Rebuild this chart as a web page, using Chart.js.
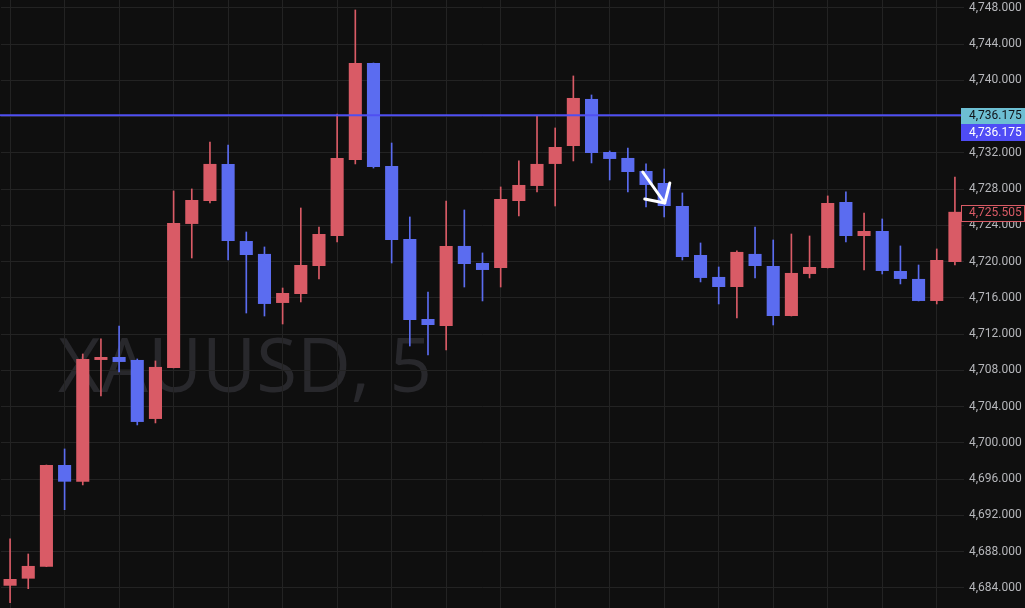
<!DOCTYPE html>
<html><head><meta charset="utf-8">
<script src="https://cdn.jsdelivr.net/npm/chart.js@4.4.0/dist/chart.umd.min.js"></script>
<style>html,body{margin:0;padding:0;background:#0f0f0f;overflow:hidden}#wrap{width:1025px;height:608px}</style>
</head><body><div id="wrap"><canvas id="c" width="1025" height="608"></canvas></div>
<script>
// ---- data (XAUUSD, 5-minute candles) ----
const opens  = [4684.25,4685.03,4686.35,4697.57,4695.73,4709.16,4709.49,4709.16,4702.65,4708.28,
                4724.17,4726.70,4730.79,4722.29,4720.86,4715.45,4716.44,4719.53,4722.84,4731.23,
                4741.93,4730.57,4722.51,4713.68,4712.91,4721.74,4719.86,4719.31,4726.70,4728.36,
                4730.79,4732.77,4737.96,4732.11,4731.45,4730.01,4728.69,4726.15,4720.74,4718.32,
                4717.21,4720.86,4719.53,4714.01,4718.65,4719.31,4726.59,4722.84,4723.39,4718.98,
                4718.10,4715.67,4719.97];
const highs  = [4689.41,4687.75,4697.57,4699.34,4709.82,4711.48,4712.91,4709.27,4709.05,4727.81,
                4728.03,4733.21,4732.88,4723.28,4721.63,4717.10,4725.93,4723.83,4736.30,4747.78,
                4741.93,4733.10,4724.94,4716.66,4726.70,4725.71,4720.97,4728.25,4731.12,4736.08,
                4734.76,4740.50,4738.40,4732.22,4732.55,4730.79,4730.23,4727.59,4722.07,4719.42,
                4721.19,4723.83,4722.40,4723.06,4722.84,4727.26,4727.70,4725.38,4724.72,4721.74,
                4719.64,4721.41,4729.35];
const lows   = [4682.38,4683.92,4686.35,4692.64,4695.37,4705.19,4707.83,4701.99,4702.21,4708.28,
                4720.41,4726.48,4720.19,4714.34,4714.01,4713.13,4715.56,4718.10,4722.18,4730.79,
                4730.34,4719.86,4710.70,4709.71,4710.26,4717.21,4715.67,4717.21,4725.05,4727.70,
                4726.15,4731.12,4730.90,4729.02,4727.70,4726.04,4724.94,4720.19,4717.77,4715.34,
                4713.79,4718.21,4713.02,4714.01,4718.21,4719.31,4722.18,4719.09,4718.65,4717.55,
                4715.67,4715.34,4719.64];
const closes = [4684.99,4686.43,4697.57,4695.73,4709.27,4709.49,4708.94,4702.32,4708.39,4724.28,
                4726.81,4730.79,4722.29,4720.74,4715.34,4716.55,4719.64,4723.06,4731.45,4741.93,
                4730.46,4722.40,4713.57,4713.02,4721.74,4719.75,4719.09,4726.92,4728.47,4730.79,
                4732.66,4738.07,4732.00,4731.34,4729.90,4728.47,4726.15,4720.52,4718.21,4717.21,
                4721.08,4719.53,4714.01,4718.76,4719.42,4726.48,4722.84,4723.39,4718.98,4718.10,
                4715.67,4720.19,4725.505];
const categories = opens.map((_, i) => i);
const levelPrice = 4736.175;            // horizontal line
const symbolText = 'XAUUSD, 5';         // watermark
const arrowPts = { from: [34.82, 4729.90], tip: [36.03, 4726.48], headA: [34.93, 4726.92], headB: [36.31, 4728.69] };
const Y_MIN = 4681.79, Y_MAX = 4748.88, Y_STEP = 4;

const UP = '#d95b66', DOWN = '#5b6cf0', BG = '#0f0f0f', GRID = '#232323';
const isUp = i => closes[i] >= opens[i];
const colorOf = ctx => isUp(ctx.dataIndex) ? UP : DOWN;

function fmt(v) {
  const s = Number(v).toFixed(3);
  const [ip, dp] = s.split('.');
  return ip.replace(/\B(?=(\d{3})+(?!\d))/g, ',') + '.' + dp;
}

const deco = {
  id: 'deco',
  beforeDraw(chart) {
    const c = chart.ctx;
    c.save();
    c.fillStyle = BG;
    c.fillRect(0, 0, chart.width, chart.height);
    // watermark
    c.fillStyle = '#28282c';
    c.font = '80px "Open Sans"';
    const w = c.measureText(symbolText).width;
    const size = 80 * 374 / w;
    c.font = size.toFixed(1) + 'px "Open Sans"';
    c.textBaseline = 'alphabetic';
    c.textAlign = 'left';
    c.fillText(symbolText, chart.chartArea.left + 57, 392);
    c.restore();
  },
  afterDatasetsDraw(chart) {
    const c = chart.ctx, xs = chart.scales.x, ys = chart.scales.y, a = chart.chartArea;
    c.save();
    // horizontal level line
    const yl = ys.getPixelForValue(levelPrice);
    c.strokeStyle = '#4f4ff2';
    c.lineWidth = 2;
    c.beginPath(); c.moveTo(a.left - 1, yl); c.lineTo(a.right, yl); c.stroke();
    // arrow
    const P = p => [xs.getPixelForValue(p[0]), ys.getPixelForValue(p[1])];
    const f = P(arrowPts.from), t = P(arrowPts.tip), h1 = P(arrowPts.headA), h2 = P(arrowPts.headB);
    c.strokeStyle = '#ffffff';
    c.lineWidth = 3;
    c.lineCap = 'round'; c.lineJoin = 'round';
    c.beginPath(); c.moveTo(f[0], f[1]); c.lineTo(t[0], t[1]); c.stroke();
    c.beginPath(); c.moveTo(h1[0], h1[1]); c.lineTo(t[0], t[1]); c.lineTo(h2[0], h2[1]); c.stroke();
    c.restore();
  },
  afterDraw(chart) {
    const c = chart.ctx, ys = chart.scales.y, a = chart.chartArea;
    const x0 = a.right - 3, bw = chart.width - x0, bh = 16;
    c.save();
    c.font = '12px Roboto';
    c.textBaseline = 'middle';
    c.textAlign = 'left';
    const yl = Math.round(ys.getPixelForValue(levelPrice));
    // cyan label
    c.fillStyle = '#6dbfd3';
    c.fillRect(x0, yl - 7, bw, bh);
    c.fillStyle = '#111318';
    c.fillText(fmt(levelPrice), a.right + 5, yl + 1);
    // blue label (stacked below)
    c.fillStyle = '#4f4cf5';
    c.fillRect(x0, yl + 9, bw, bh + 1);
    c.fillStyle = '#ffffff';
    c.fillText(fmt(levelPrice), a.right + 5, yl + 17.5);
    // last price label
    const last = closes[closes.length - 1];
    const yc = Math.round(ys.getPixelForValue(last));
    c.fillStyle = BG;
    c.fillRect(x0, yc - 7, bw, bh);
    c.strokeStyle = UP; c.lineWidth = 1;
    c.strokeRect(x0 + 0.5, yc - 6.5, bw - 1, bh);
    c.fillStyle = UP;
    c.fillText(fmt(last), a.right + 5, yc + 1);
    c.restore();
  }
};

new Chart(document.getElementById('c'), {
  type: 'bar',
  data: {
    labels: categories,
    datasets: [
      { label: 'wick', data: lows.map((l, i) => [l, highs[i]]), backgroundColor: colorOf,
        barThickness: 1, grouped: false, order: 2 },
      { label: 'body', data: opens.map((o, i) => [o, closes[i]]), backgroundColor: colorOf,
        categoryPercentage: 1, barPercentage: 0.72, grouped: false, minBarLength: 1, order: 1 }
    ]
  },
  options: {
    responsive: false, animation: false, devicePixelRatio: 1,
    layout: { padding: { left: 1, right: 0, top: 0, bottom: 0 } },
    plugins: { legend: { display: false }, tooltip: { enabled: false } },
    scales: {
      x: {
        offset: true,
        ticks: { display: false },
        grid: { offset: false, drawTicks: false, color: ctx => (ctx.index % 3 === 0 ? GRID : 'rgba(0,0,0,0)') },
        border: { display: false },
        afterFit: s => { s.height = 0; s.paddingLeft = 0; s.paddingRight = 0; }
      },
      y: {
        position: 'right', min: Y_MIN, max: Y_MAX,
        ticks: { stepSize: Y_STEP, includeBounds: false, color: '#b6b7bb', font: { family: 'Roboto', size: 12 }, padding: 5, callback: v => fmt(v) },
        grid: { color: GRID, drawTicks: false },
        border: { display: false },
        afterFit: s => { s.width = 61; s.paddingTop = 0; s.paddingBottom = 0; }
      }
    }
  },
  plugins: [deco]
});
</script></body></html>
